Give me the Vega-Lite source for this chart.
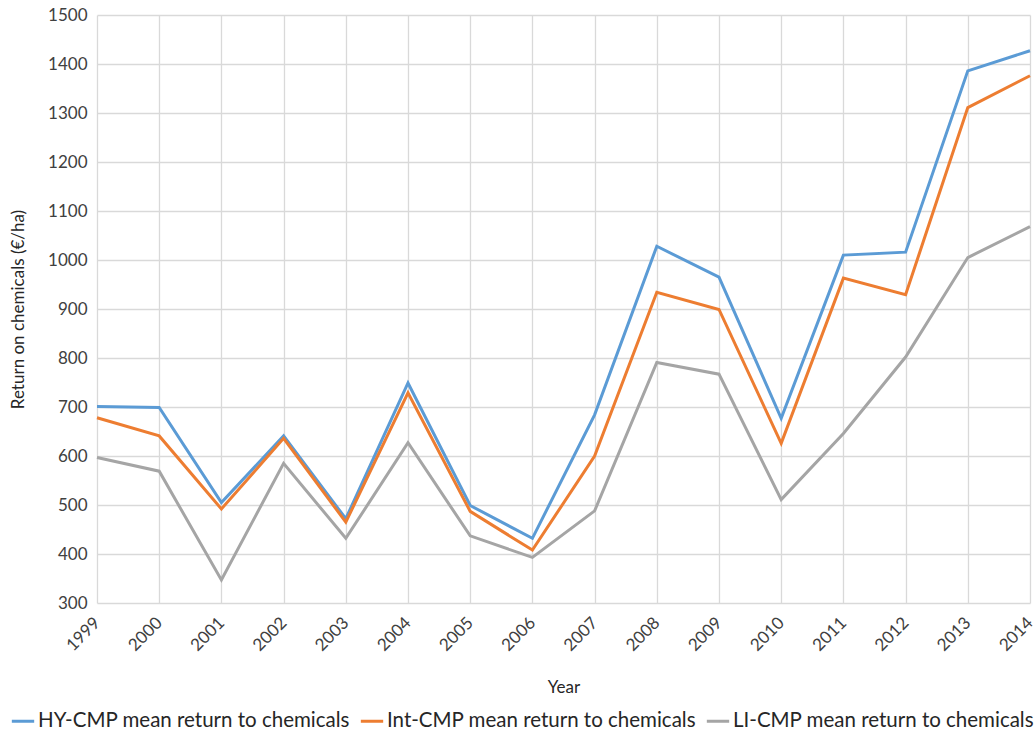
{
  "$schema": "https://vega.github.io/schema/vega-lite/v6.json",
  "autosize": "none",
  "width": 933,
  "height": 588,
  "padding": {"left": 97, "top": 15, "right": 5, "bottom": 132},
  "background": "white",
  "config": {
    "font": "Lato",
    "view": {"stroke": null},
    "axis": {
      "labelFont": "Lato",
      "titleFont": "Lato",
      "labelFontSize": 17,
      "titleFontSize": 17,
      "titleFontWeight": "normal",
      "labelColor": "#404040",
      "titleColor": "#262626",
      "gridColor": "#D9D9D9",
      "gridWidth": 1.3,
      "domain": false,
      "ticks": false
    },
    "legend": {"labelFont": "Lato", "labelFontSize": 20.5, "labelColor": "#262626", "labelLimit": 0}
  },
  "data": {
    "values": [
      {"Year": "1999", "HY": 701, "Int": 678, "LI": 597},
      {"Year": "2000", "HY": 699, "Int": 641, "LI": 569},
      {"Year": "2001", "HY": 505, "Int": 492, "LI": 347},
      {"Year": "2002", "HY": 641, "Int": 636, "LI": 585},
      {"Year": "2003", "HY": 472, "Int": 465, "LI": 432},
      {"Year": "2004", "HY": 749, "Int": 729, "LI": 627},
      {"Year": "2005", "HY": 499, "Int": 487, "LI": 437},
      {"Year": "2006", "HY": 432, "Int": 408, "LI": 393},
      {"Year": "2007", "HY": 684, "Int": 600, "LI": 488},
      {"Year": "2008", "HY": 1028, "Int": 934, "LI": 791},
      {"Year": "2009", "HY": 965, "Int": 899, "LI": 767},
      {"Year": "2010", "HY": 677, "Int": 626, "LI": 511},
      {"Year": "2011", "HY": 1010, "Int": 963, "LI": 646},
      {"Year": "2012", "HY": 1016, "Int": 929, "LI": 802},
      {"Year": "2013", "HY": 1386, "Int": 1311, "LI": 1005},
      {"Year": "2014", "HY": 1427, "Int": 1376, "LI": 1068}
    ]
  },
  "transform": [
    {"fold": ["HY", "Int", "LI"], "as": ["key", "value"]},
    {"lookup": "key", "from": {"data": {"values": [
      {"key": "HY", "series": "HY-CMP mean return to chemicals"},
      {"key": "Int", "series": "Int-CMP mean return to chemicals"},
      {"key": "LI", "series": "LI-CMP mean return to chemicals"}
    ]}, "key": "key", "fields": ["series"]}}
  ],
  "mark": {"type": "line", "strokeWidth": 3, "strokeJoin": "miter"},
  "encoding": {
    "x": {
      "field": "Year",
      "type": "ordinal",
      "scale": {"type": "point", "padding": 0},
      "axis": {"labelAngle": -45, "labelFontSize": 17, "labelBaseline": "middle", "labelAlign": "right", "labelPadding": 17, "title": "Year", "titlePadding": 26, "grid": true}
    },
    "y": {
      "field": "value",
      "type": "quantitative",
      "scale": {"domain": [300, 1500], "nice": false, "zero": false},
      "axis": {"values": [300, 400, 500, 600, 700, 800, 900, 1000, 1100, 1200, 1300, 1400, 1500], "format": "d", "labelPadding": 10, "title": "Return on chemicals (€/ha)", "titlePadding": 20, "grid": true}
    },
    "color": {
      "field": "series",
      "type": "nominal",
      "scale": {
        "domain": ["HY-CMP mean return to chemicals", "Int-CMP mean return to chemicals", "LI-CMP mean return to chemicals"],
        "range": ["#5B9BD5", "#ED7D31", "#A5A5A5"]
      },
      "legend": {
        "title": null,
        "orient": "none",
        "legendX": -87,
        "legendY": 693,
        "direction": "horizontal",
        "symbolType": "stroke",
        "symbolStrokeWidth": 3,
        "symbolSize": 500,
        "columnPadding": 3,
        "labelOffset": 2
      }
    }
  }
}
